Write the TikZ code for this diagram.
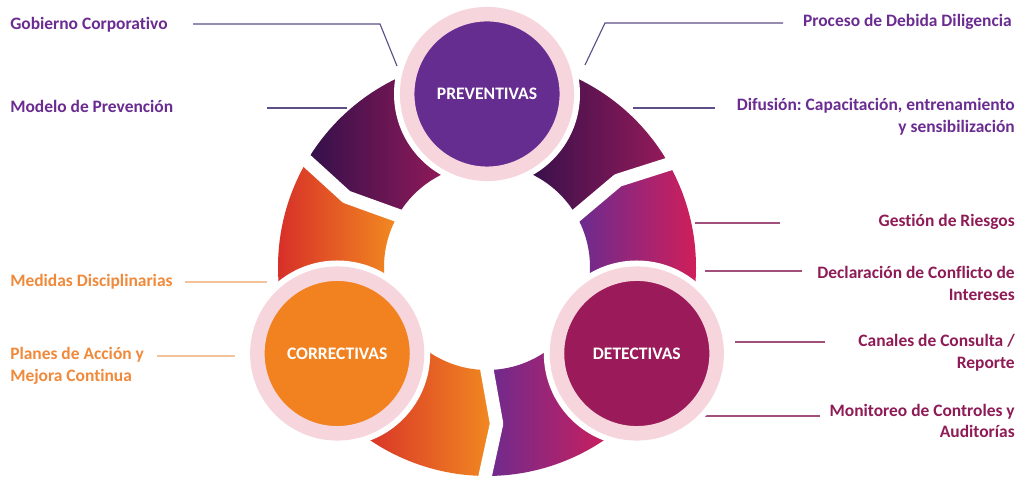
\documentclass[tikz,border=0pt]{standalone}
\usepackage{fontspec}
\setmainfont{Carlito}[RawFeature=-liga]
\definecolor{labpur}{HTML}{6B2C91}
\definecolor{labcrim}{HTML}{8E1B55}
\definecolor{laborg}{HTML}{F0893A}
\definecolor{leadpur}{HTML}{5E4E86}
\definecolor{leadcrim}{HTML}{A0507A}
\definecolor{leadorg}{HTML}{F2C29A}
\definecolor{prevc}{HTML}{662D91}
\definecolor{detc}{HTML}{9B1B5A}
\definecolor{corrc}{HTML}{F1821F}
\definecolor{pinkc}{HTML}{F6D5DC}
\definecolor{dkL}{HTML}{33104A}
\definecolor{dkR}{HTML}{961A5A}
\definecolor{orL}{HTML}{D62B29}
\definecolor{orR}{HTML}{F28C20}
\definecolor{ppL}{HTML}{6A2B90}
\definecolor{ppR}{HTML}{D41E58}
\frenchspacing
\begin{document}
\begin{tikzpicture}[x=0.025cm,y=0.025cm,
  lbl/.style={font=\fontsize{12.4}{15.5}\selectfont\bfseries, inner sep=0pt},
  lpur/.style={lbl, text=labpur},
  lcrim/.style={lbl, text=labcrim},
  lorg/.style={lbl, text=laborg},
  leadp/.style={draw=leadpur, line width=0.8pt},
  leadc/.style={draw=leadcrim, line width=0.8pt},
  leado/.style={draw=leadorg, line width=0.8pt},
  gapline/.style={draw=white, line width=9.5pt, line join=round},
  stage/.style={circle, minimum size=3.99cm, inner sep=0pt, draw=pinkc,
    line width=0.3625cm, text=white, font=\fontsize{12.5}{15}\selectfont\bfseries},
  halo/.style={fill=white}
]
\useasboundingbox (0,0) rectangle (1020,477);
\fill[white] (0,0) rectangle (1020,477);

% ---- labels
\node[lpur, anchor=west] (gob) at (10,452) {Gobierno Corporativo};
\node[lpur, anchor=west] (mod) at (10,371) {Modelo de Prevención};
\node[lpur, anchor=east] (pro) at (1012,455) {Proceso de Debida Diligencia};
\node[lpur, anchor=east, align=right] (dif) at (1015,360.5) {Difusión: Capacitación, entrenamiento\\y sensibilización};
\node[lcrim, anchor=east] (ges) at (1015,255) {Gestión de Riesgos};
\node[lcrim, anchor=east, align=right] (dec) at (1015,193.5) {Declaración de Conflicto de\\Intereses};
\node[lcrim, anchor=east, align=right] (can) at (1015,124) {Canales de Consulta /\\Reporte};
\node[lcrim, anchor=east, align=right] (mon) at (1015,56) {Monitoreo de Controles y\\Auditorías};
\node[lorg, anchor=west] (med) at (10,195) {Medidas Disciplinarias};
\node[lorg, anchor=west, align=left] (pla) at (10,111) {Planes de Acción y\\Mejora Continua};

% ---- leader coordinates
\coordinate (gobA) at (193,453); \coordinate (gobB) at (380,453); \coordinate (gobE) at (397,411);
\coordinate (modA) at (267,369); \coordinate (modE) at (347,369);
\coordinate (proA) at (783,454); \coordinate (proB) at (605,454); \coordinate (proE) at (585,412);
\coordinate (difA) at (715,369); \coordinate (difE) at (633,369);
\coordinate (gesA) at (780,254); \coordinate (gesE) at (695,254);
\coordinate (decA) at (802,206); \coordinate (decE) at (705,206);
\coordinate (canA) at (825,135); \coordinate (canE) at (735,135);
\coordinate (monA) at (820,61);  \coordinate (monE) at (703,61);
\coordinate (medA) at (185,195); \coordinate (medE) at (267,195);
\coordinate (plaA) at (157,121); \coordinate (plaE) at (235,121);

\draw[leadp] (gobA) -- (gobB) -- (gobE);
\draw[leadp] (modA) -- (modE);
\draw[leadp] (proA) -- (proB) -- (proE);
\draw[leadp] (difA) -- (difE);
\draw[leadc] (gesA) -- (gesE);
\draw[leadc] (decA) -- (decE);
\draw[leadc] (canA) -- (canE);
\draw[leadc] (monA) -- (monE);
\draw[leado] (medA) -- (medE);
\draw[leado] (plaA) -- (plaE);

% ---- ring segments
\begin{scope}[shift={(487,210)}]
  % top-right dark
  \shade[left color=dkL, right color=dkR]
    (29:209) -- (33.5:157) -- (29:103) arc[start angle=29, end angle=70, radius=103]
    -- (70:209) arc[start angle=70, end angle=29, radius=209] -- cycle;
  % top-left dark
  \shade[left color=dkL, right color=dkR]
    (110:103) arc[start angle=110, end angle=149, radius=103] -- (153.5:157)
    -- (149:209) arc[start angle=149, end angle=110, radius=209] -- cycle;
  % left orange
  \shade[left color=orL, right color=orR]
    (149:209) -- (153.5:157) -- (149:103) arc[start angle=149, end angle=190, radius=103]
    -- (190:209) arc[start angle=190, end angle=149, radius=209] -- cycle;
  % bottom-left orange
  \shade[left color=orL, right color=orR]
    (230:103) arc[start angle=230, end angle=269, radius=103] -- (273.5:157)
    -- (269:209) arc[start angle=269, end angle=230, radius=209] -- cycle;
  % bottom-right purple
  \shade[left color=ppL, right color=ppR]
    (269:209) -- (273.5:157) -- (269:103) arc[start angle=269, end angle=310, radius=103]
    -- (310:209) arc[start angle=310, end angle=269, radius=209] -- cycle;
  % right purple
  \shade[left color=ppL, right color=ppR]
    (-10:103) arc[start angle=-10, end angle=29, radius=103] -- (33.5:157)
    -- (29:209) arc[start angle=29, end angle=-10, radius=209] -- cycle;
  % gaps
  \draw[gapline] (29:94) -- (33.5:157) -- (29:218);
  \draw[gapline] (149:94) -- (153.5:157) -- (149:218);
  \draw[gapline] (269:94) -- (273.5:157) -- (269:218);
\end{scope}

% ---- stage circles
\fill[halo] (487,383) circle[radius=93];
\fill[halo] (337.2,123.5) circle[radius=93];
\fill[halo] (636.8,123.5) circle[radius=93];
\node[stage, fill=prevc] (prev) at (487,383) {PREVENTIVAS};
\node[stage, fill=corrc] (corr) at (337.2,123.5) {CORRECTIVAS};
\node[stage, fill=detc] (dete) at (636.8,123.5) {DETECTIVAS};
\end{tikzpicture}
\end{document}
